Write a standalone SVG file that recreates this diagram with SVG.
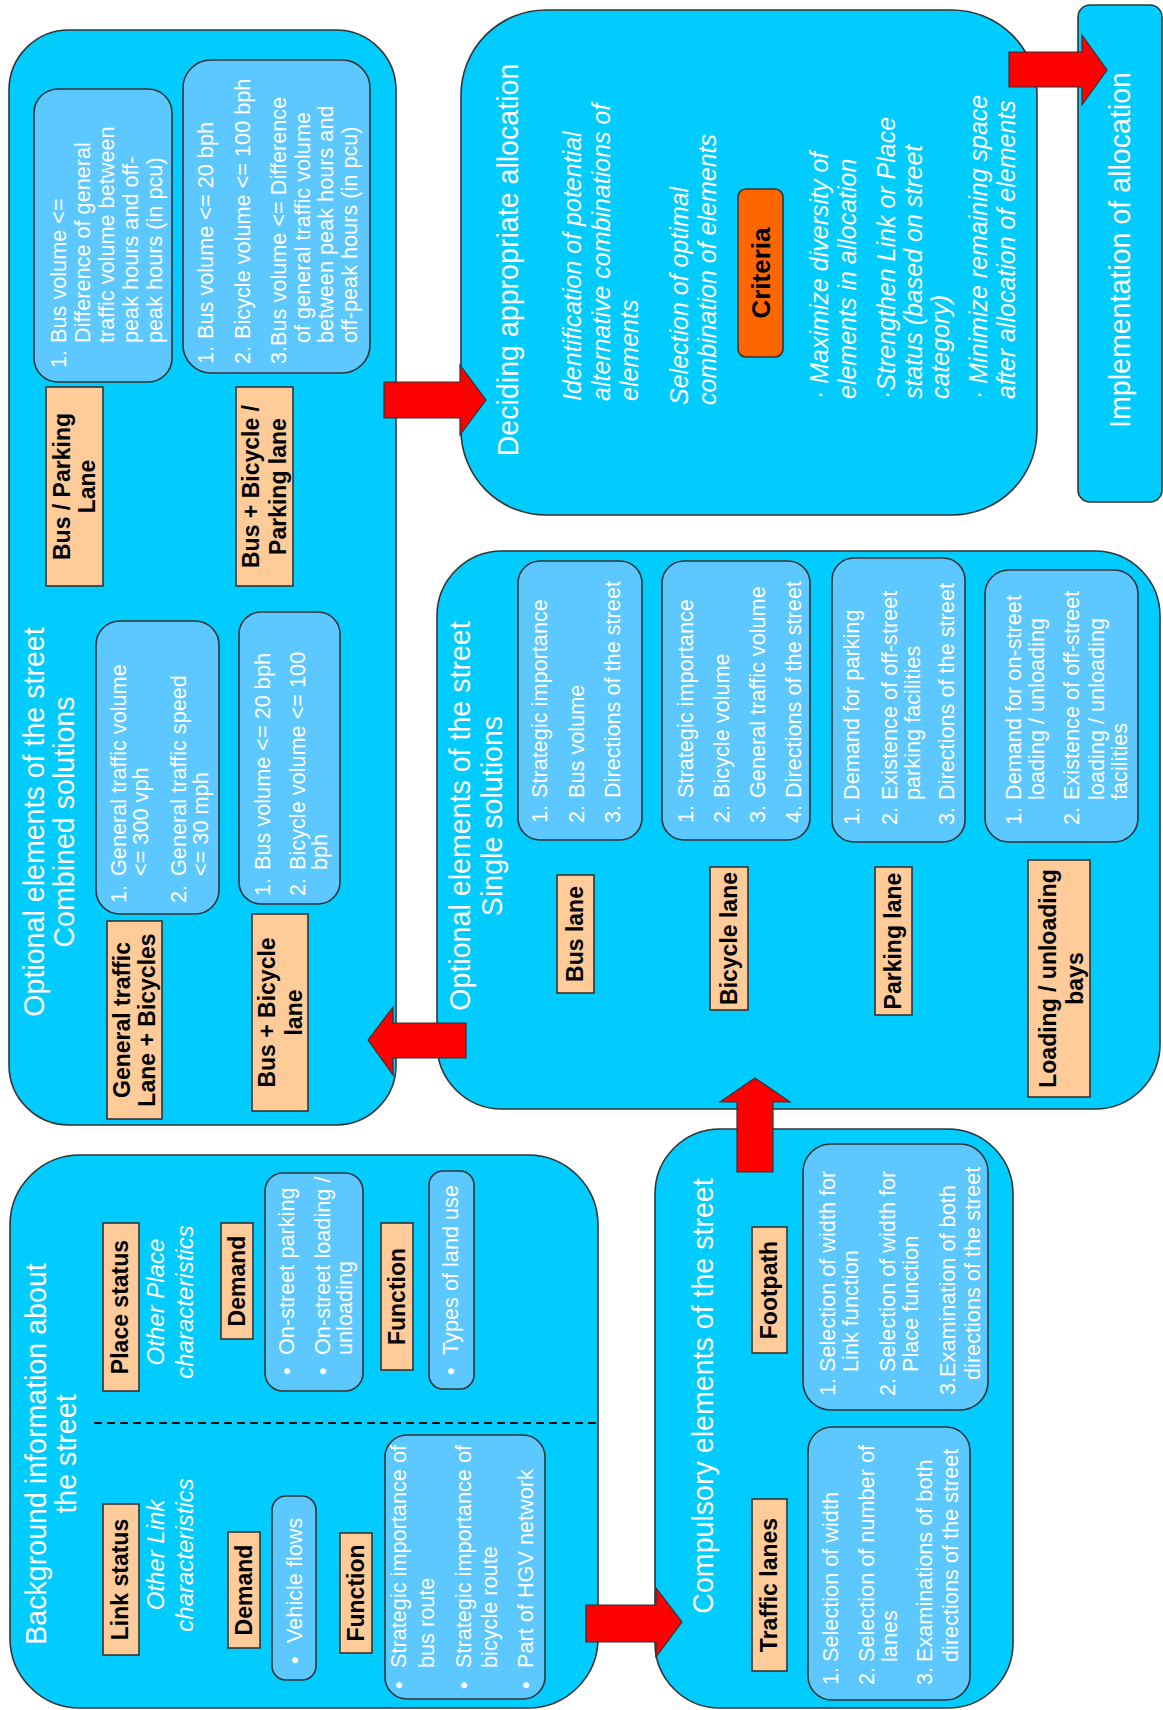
<svg xmlns="http://www.w3.org/2000/svg" width="1163" height="1710" viewBox="0 0 1163 1710">
<style>
.box{fill:#00CCFF;stroke:#333;stroke-width:1.6}
.in{fill:#5CC8FF;stroke:#333;stroke-width:1.6}
.lab{fill:#FFCC99;stroke:#333;stroke-width:1.6}
.crit{fill:#FF6600;stroke:#333;stroke-width:1.6}
.w{fill:#fff;font-family:"Liberation Sans",Arial,sans-serif}
.h{font-size:28.6px;text-anchor:middle}
.l{font-size:21.7px}
.i{font-size:25px;font-style:italic}
.oi{font-size:24px;font-style:italic;text-anchor:middle}
.b{font-family:"Liberation Sans",Arial,sans-serif;font-weight:bold;font-size:23px;fill:#000;text-anchor:middle}
.arrow{fill:#FF0000;stroke:#333;stroke-width:1.2}
.dash{stroke:#111;stroke-width:2;stroke-dasharray:8 5;fill:none}
</style>
<rect width="1163" height="1710" fill="#fff"/>
<g transform="translate(0,1710) rotate(-90)">
<g id="background">
<rect class="box" x="2" y="10" width="553" height="588" rx="70"/>
<text class="w h"><tspan x="256" y="46">Background information about</tspan><tspan x="256" y="76">the street</tspan></text>
<line class="dash" x1="287" y1="94" x2="287" y2="597"/>
<rect class="lab" x="55" y="103" width="151" height="36"/>
<text class="b" x="130.5" y="128">Link status</text>
<text class="w oi"><tspan x="155" y="164">Other Link</tspan><tspan x="155" y="193">characteristics</tspan></text>
<rect class="lab" x="62" y="228" width="116" height="32"/>
<text class="b" x="120" y="252">Demand</text>
<rect class="in" x="30" y="272" width="184" height="44" rx="14"/>
<text class="w l"><tspan x="46" y="302">•</tspan><tspan x="67" y="302">Vehicle flows</tspan></text>
<rect class="lab" x="57" y="340" width="120" height="32"/>
<text class="b" x="117" y="364">Function</text>
<rect class="in" x="11" y="385" width="264" height="160" rx="22"/>
<text class="w l"><tspan x="21" y="406">•</tspan><tspan x="42" y="406">Strategic importance of</tspan><tspan x="42" y="434">bus route</tspan><tspan x="21" y="471">•</tspan><tspan x="42" y="471">Strategic importance of</tspan><tspan x="42" y="497">bicycle route</tspan><tspan x="21" y="533">•</tspan><tspan x="42" y="533">Part of HGV network</tspan></text>
<rect class="lab" x="319" y="103" width="168" height="36"/>
<text class="b" x="403" y="128">Place status</text>
<text class="w oi"><tspan x="408" y="164">Other Place</tspan><tspan x="408" y="193">characteristics</tspan></text>
<rect class="lab" x="371" y="221" width="116" height="32"/>
<text class="b" x="429" y="245">Demand</text>
<rect class="in" x="319" y="265" width="218" height="98" rx="18"/>
<text class="w l"><tspan x="335" y="294">•</tspan><tspan x="355" y="294">On-street parking</tspan><tspan x="335" y="330">•</tspan><tspan x="355" y="330">On-street loading /</tspan><tspan x="355" y="352">unloading</tspan></text>
<rect class="lab" x="340" y="381" width="147" height="32"/>
<text class="b" x="413.5" y="405">Function</text>
<rect class="in" x="321" y="429" width="218" height="45" rx="14"/>
<text class="w l"><tspan x="335" y="458">•</tspan><tspan x="355" y="458">Types of land use</tspan></text>
</g>
<g id="compulsory">
<rect class="box" x="2" y="655" width="579" height="358" rx="65"/>
<text class="w h" x="314" y="713">Compulsory elements of the street</text>
<rect class="lab" x="39" y="752" width="172" height="35"/>
<text class="b" x="125" y="777">Traffic lanes</text>
<rect class="lab" x="357" y="752" width="126" height="35"/>
<text class="b" x="420" y="777">Footpath</text>
<rect class="in" x="10" y="808" width="273" height="162" rx="24"/>
<text class="w l"><tspan x="25" y="838">1.</tspan><tspan x="48" y="838">Selection of width</tspan><tspan x="25" y="874">2.</tspan><tspan x="48" y="874">Selection of number of</tspan><tspan x="48" y="897">lanes</tspan><tspan x="25" y="932">3.</tspan><tspan x="48" y="932">Examinations of both</tspan><tspan x="48" y="958">directions of the street</tspan></text>
<rect class="in" x="300" y="803" width="266" height="185" rx="28"/>
<text class="w l"><tspan x="314" y="835">1.</tspan><tspan x="338" y="835">Selection of width for</tspan><tspan x="338" y="858">Link function</tspan><tspan x="314" y="895">2.</tspan><tspan x="338" y="895">Selection of width for</tspan><tspan x="338" y="918">Place function</tspan><tspan x="315" y="955">3.Examination of both</tspan><tspan x="330" y="980">directions of the street</tspan></text>
</g>
<g id="single">
<rect class="box" x="601" y="437" width="558" height="723" rx="65"/>
<text class="w h"><tspan x="894" y="470">Optional elements of the street</tspan><tspan x="894" y="502">Single solutions</tspan></text>
<rect class="lab" x="717" y="557" width="118" height="37"/>
<text class="b" x="776" y="583">Bus lane</text>
<rect class="in" x="870" y="518" width="279" height="124" rx="22"/>
<text class="w l"><tspan x="887" y="547">1.</tspan><tspan x="912" y="547">Strategic importance</tspan><tspan x="887" y="584">2.</tspan><tspan x="912" y="584">Bus volume</tspan><tspan x="887" y="620">3.</tspan><tspan x="912" y="620">Directions of the street</tspan></text>
<rect class="lab" x="700" y="710" width="143" height="38"/>
<text class="b" x="771.5" y="737">Bicycle lane</text>
<rect class="in" x="870" y="662" width="279" height="148" rx="22"/>
<text class="w l"><tspan x="887" y="693">1.</tspan><tspan x="912" y="693">Strategic importance</tspan><tspan x="887" y="729">2.</tspan><tspan x="912" y="729">Bicycle volume</tspan><tspan x="887" y="765">3.</tspan><tspan x="912" y="765">General traffic volume</tspan><tspan x="887" y="801">4.</tspan><tspan x="912" y="801">Directions of the street</tspan></text>
<rect class="lab" x="695" y="875" width="148" height="37"/>
<text class="b" x="769" y="901">Parking lane</text>
<rect class="in" x="868" y="832" width="284" height="133" rx="22"/>
<text class="w l"><tspan x="885" y="859">1.</tspan><tspan x="910" y="859">Demand for parking</tspan><tspan x="885" y="897">2.</tspan><tspan x="910" y="897">Existence of off-street</tspan><tspan x="910" y="920">parking facilities</tspan><tspan x="885" y="954">3.</tspan><tspan x="910" y="954">Directions of the street</tspan></text>
<rect class="lab" x="613" y="1028" width="237" height="62"/>
<text class="b"><tspan x="731.5" y="1056">Loading / unloading</tspan><tspan x="731.5" y="1083">bays</tspan></text>
<rect class="in" x="868" y="985" width="272" height="153" rx="24"/>
<text class="w l"><tspan x="885" y="1021">1.</tspan><tspan x="910" y="1021">Demand for on-street</tspan><tspan x="910" y="1044">loading / unloading</tspan><tspan x="885" y="1079">2.</tspan><tspan x="910" y="1079">Existence of off-street</tspan><tspan x="910" y="1104">loading / unloading</tspan><tspan x="910" y="1127">facilities</tspan></text>
</g>
<g id="combined">
<rect class="box" x="585" y="9" width="1095" height="387" rx="60"/>
<text class="w h"><tspan x="888" y="44">Optional elements of the street</tspan><tspan x="888" y="74">Combined solutions</tspan></text>
<rect class="lab" x="591" y="107" width="198" height="55"/>
<text class="b"><tspan x="690" y="130">General traffic</tspan><tspan x="690" y="155">Lane + Bicycles</tspan></text>
<rect class="in" x="796" y="96" width="293" height="123" rx="24"/>
<text class="w l"><tspan x="807" y="126">1.</tspan><tspan x="834" y="126">General traffic volume</tspan><tspan x="834" y="148">&lt;= 300 vph</tspan><tspan x="807" y="186">2.</tspan><tspan x="834" y="186">General traffic speed</tspan><tspan x="834" y="208">&lt;= 30 mph</tspan></text>
<rect class="lab" x="599" y="252" width="197" height="56"/>
<text class="b"><tspan x="697.5" y="275">Bus + Bicycle</tspan><tspan x="697.5" y="302">lane</tspan></text>
<rect class="in" x="806" y="239" width="292" height="101" rx="22"/>
<text class="w l"><tspan x="814" y="270">1.</tspan><tspan x="840" y="270">Bus volume &lt;= 20 bph</tspan><tspan x="814" y="305">2.</tspan><tspan x="840" y="305">Bicycle volume &lt;= 100</tspan><tspan x="840" y="327">bph</tspan></text>
<rect class="lab" x="1124" y="46" width="199" height="57"/>
<text class="b"><tspan x="1223.5" y="70">Bus / Parking</tspan><tspan x="1223.5" y="95">Lane</tspan></text>
<rect class="in" x="1328" y="34" width="293" height="138" rx="24"/>
<text class="w l"><tspan x="1342" y="66">1.</tspan><tspan x="1367" y="66">Bus volume &lt;=</tspan><tspan x="1367" y="90">Difference of general</tspan><tspan x="1367" y="114">traffic volume between</tspan><tspan x="1367" y="138">peak hours and off-</tspan><tspan x="1367" y="162">peak hours (in pcu)</tspan></text>
<rect class="lab" x="1124" y="236" width="199" height="57"/>
<text class="b"><tspan x="1223.5" y="259">Bus + Bicycle /</tspan><tspan x="1223.5" y="286">Parking lane</tspan></text>
<rect class="in" x="1337" y="183" width="313" height="187" rx="28"/>
<text class="w l"><tspan x="1346" y="213">1.</tspan><tspan x="1371" y="213">Bus volume &lt;= 20 bph</tspan><tspan x="1346" y="250">2.</tspan><tspan x="1371" y="250">Bicycle volume &lt;= 100 bph</tspan><tspan x="1346" y="286">3.Bus volume &lt;= Difference</tspan><tspan x="1367" y="310">of general traffic volume</tspan><tspan x="1367" y="333">between peak hours and</tspan><tspan x="1367" y="357">off-peak hours (in pcu)</tspan></text>
</g>
<g id="deciding">
<rect class="box" x="1195" y="461" width="505" height="576" rx="85"/>
<text class="w h" x="1450" y="518">Deciding appropriate allocation</text>
<text class="w i"><tspan x="1309" y="581">Identification of potential</tspan><tspan x="1309" y="610">alternative combinations of</tspan><tspan x="1309" y="638">elements</tspan></text>
<text class="w i"><tspan x="1305" y="688">Selection of optimal</tspan><tspan x="1305" y="716">combination of elements</tspan></text>
<rect class="crit" x="1353" y="738" width="168" height="45" rx="8"/>
<text class="b" x="1437" y="770" style="font-size:26px">Criteria</text>
<text class="w i"><tspan x="1311" y="828">· Maximize diversity of</tspan><tspan x="1311" y="856">elements in allocation</tspan></text>
<text class="w i"><tspan x="1311" y="895">·Strengthen Link or Place</tspan><tspan x="1311" y="922">status (based on street</tspan><tspan x="1311" y="949">category)</tspan></text>
<text class="w i"><tspan x="1311" y="987">· Minimize remaining space</tspan><tspan x="1311" y="1015">after allocation of elements</tspan></text>
</g>
<g id="implementation">
<rect class="box" x="1208" y="1078" width="497" height="84" rx="12"/>
<text class="w h" x="1460" y="1130">Implementation of allocation</text>
</g>
</g>
<g id="connectors">
<polygon class="arrow" points="586,1605 656,1605 656,1588 682,1622 656,1657 656,1642 586,1642"/>
<polygon class="arrow" points="737,1172 737,1102 720,1102 755,1078 790,1102 773,1102 773,1172"/>
<polygon class="arrow" points="466,1023 393,1023 393,1007 368,1040 393,1075 393,1058 466,1058"/>
<polygon class="arrow" points="384,382 460,382 460,365 486,400 460,435 460,418 384,418"/>
<polygon class="arrow" points="1009,52 1082,52 1082,35 1107,70 1082,105 1082,87 1009,87"/>
</g>
</svg>
